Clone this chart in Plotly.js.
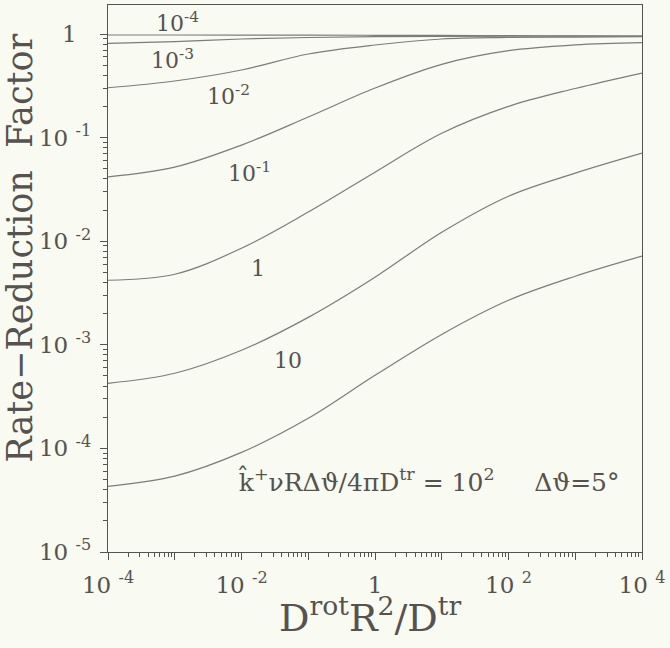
<!DOCTYPE html>
<html>
<head>
<meta charset="utf-8">
<script src="https://cdn.plot.ly/plotly-3.0.1.min.js"></script>
<style>html,body{margin:0;padding:0;background:#f9faf2;}</style>
</head>
<body>
<div id="chart" style="width:670px;height:648px;"></div>
<script>
// x: D^rot R^2 / D^tr
const xVals = [1e-4, 1e-3, 1e-2, 1e-1, 1, 10, 100, 1e3, 1e4];
// curve parameter: k^+ nu R dTheta / 4 pi D^tr
const curveParams = ['1e-4', '1e-3', '1e-2', '1e-1', '1', '10', '100'];
const yP4 = [0.978, 0.978, 0.977, 0.975, 0.972, 0.968, 0.964, 0.960, 0.957];
const yP3 = [0.813, 0.846, 0.895, 0.925, 0.942, 0.950, 0.953, 0.954, 0.955];
const yP2 = [0.303, 0.352, 0.449, 0.641, 0.783, 0.895, 0.925, 0.935, 0.942];
const yP1 = [0.0418, 0.0519, 0.0847, 0.158, 0.301, 0.51, 0.69, 0.785, 0.825];
const y1   = [4.20e-3, 4.80e-3, 8.55e-3, 1.91e-2, 4.64e-2, 0.110, 0.200, 0.298, 0.420];
const y10  = [4.25e-4, 5.31e-4, 8.85e-4, 1.84e-3, 4.49e-3, 1.22e-2, 2.72e-2, 4.54e-2, 7.08e-2];
const y100 = [4.30e-5, 5.40e-5, 9.15e-5, 1.95e-4, 5.07e-4, 1.26e-3, 2.69e-3, 4.59e-3, 7.17e-3];
const series = [yP4, yP3, yP2, yP1, y1, y10, y100];

// tick labels
const xTickVals = [1e-4, 1e-3, 1e-2, 1e-1, 1, 10, 100, 1e3, 1e4];
const xTickText = ['10 <sup>-4</sup>', '', '10 <sup>-2</sup>', '', '1', '', '10 <sup>2</sup>', '', '10 <sup>4</sup>'];
const yTickVals = [1e-5, 1e-4, 1e-3, 1e-2, 1e-1, 1];
const yTickText = ['10 <sup>-5</sup>', '10 <sup>-4</sup>', '10 <sup>-3</sup>', '10 <sup>-2</sup>', '10 <sup>-1</sup>', '1\u00a0\u00a0'];

// curve labels
const labelText = ['10<sup>-4</sup>', '10<sup>-3</sup>', '10<sup>-2</sup>', '10<sup>-1</sup>', '1', '10'];
const labelX = [1.1e-3, 9.3e-4, 6.3e-3, 1.34e-2, 1.77e-2, 4.98e-2];
const labelY = [1.31, 0.573, 0.258, 0.0465, 0.00548, 0.000708];

function minorTicks(lo, hi) {
  const v = [];
  for (let d = lo; d < hi; d++) for (let k = 2; k <= 9; k++) v.push(k * Math.pow(10, d));
  return v;
}

const ink = '#555250';
const fam = 'DejaVu Serif, Liberation Serif, serif';

const traces = series.map((ys, i) => ({
  x: xVals, y: ys, type: 'scatter', mode: 'lines',
  name: curveParams[i],
  line: {color: '#7c7c78', width: 1.2, shape: 'spline', smoothing: 1},
  hoverinfo: 'skip', showlegend: false
}));

const annotations = labelText.map((t, i) => ({
  text: t, x: Math.log10(labelX[i]), y: Math.log10(labelY[i]),
  xref: 'x', yref: 'y', showarrow: false,
  font: {family: fam, size: 22, color: ink}
}));

annotations.push({
  text: 'k\u0302<sup>+</sup>\u03bdR\u0394\u03d1/4\u03c0D<sup>tr</sup>\u00a0=\u00a010<sup>2</sup>\u00a0\u00a0\u00a0\u00a0\u00a0\u0394\u03d1=5\u00b0',
  x: Math.log10(6.44), y: Math.log10(4.9e-5), xref: 'x', yref: 'y', showarrow: false,
  font: {family: fam, size: 25, color: ink}
});
annotations.push({
  text: 'Rate\u2212Reduction\u00a0 Factor', textangle: -90,
  x: -0.165, y: 0.556, xref: 'paper', yref: 'paper', showarrow: false,
  xanchor: 'center', yanchor: 'middle',
  font: {family: fam, size: 35, color: ink}
});
annotations.push({
  text: 'D<sup>rot</sup>R<sup>2</sup>/D<sup>tr</sup>',
  x: 0.49, y: -0.115, xref: 'paper', yref: 'paper', showarrow: false,
  xanchor: 'center', yanchor: 'middle',
  font: {family: fam, size: 38, color: ink}
});

const axisCommon = {
  type: 'log', showgrid: false, zeroline: false,
  showline: true, linecolor: ink, linewidth: 1.2, mirror: true,
  ticks: 'outside', ticklen: 7, tickwidth: 1, tickcolor: ink,
  tickfont: {family: fam, size: 23, color: ink}
};

const layout = {
  width: 670, height: 648, autosize: false,
  margin: {l: 108, r: 28, t: 5, b: 96},
  paper_bgcolor: '#f9faf2', plot_bgcolor: '#f9faf2',
  showlegend: false,
  xaxis: Object.assign({}, axisCommon, {
    range: [-4, 4], tickmode: 'array', tickvals: xTickVals, ticktext: xTickText,
    ticklabelstandoff: 5,
    minor: {tickmode: 'array', tickvals: minorTicks(-4, 4), ticks: 'outside', ticklen: 4, tickcolor: ink, showgrid: false}
  }),
  yaxis: Object.assign({}, axisCommon, {
    range: [-5, 0.28], tickmode: 'array', tickvals: yTickVals, ticktext: yTickText,
    ticklabelstandoff: 4,
    minor: {tickmode: 'array', tickvals: minorTicks(-5, 1), ticks: 'outside', ticklen: 4, tickcolor: ink, showgrid: false}
  }),
  annotations: annotations
};

Plotly.newPlot('chart', traces, layout, {staticPlot: true, displayModeBar: false});
</script>
</body>
</html>
